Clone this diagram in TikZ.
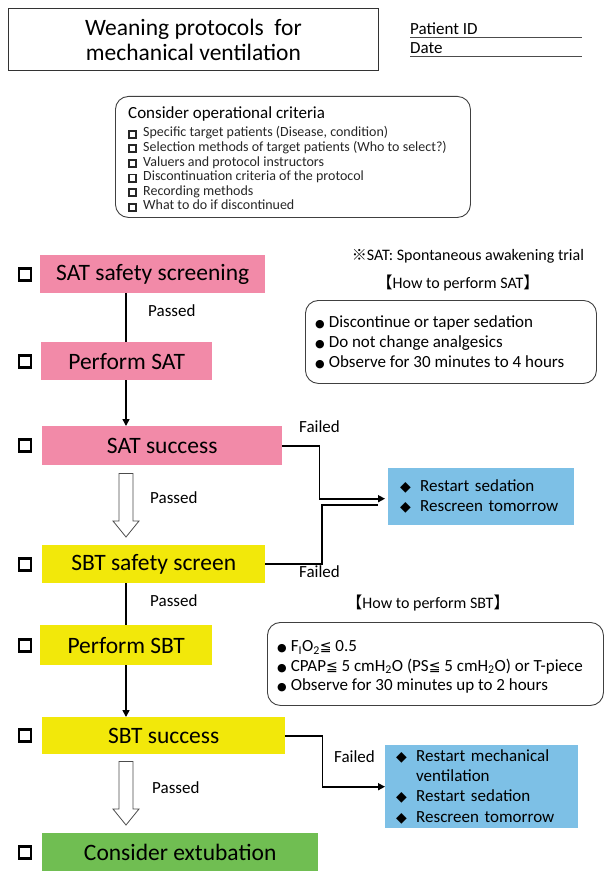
\documentclass[tikz,border=0pt]{standalone}
\usepackage{fontspec}
\setmainfont{Carlito}
\newfontfamily\symf{DejaVu Sans}
\newfontfamily\cjk{Noto Sans CJK JP}
\usetikzlibrary{calc,arrows.meta}
\definecolor{pinkc}{RGB}{242,138,168}
\definecolor{yellowc}{RGB}{242,232,10}
\definecolor{greenc}{RGB}{112,190,82}
\definecolor{bluec}{RGB}{125,192,230}
\newcommand\cbx{\raisebox{0pt}{\setlength{\fboxsep}{0pt}\setlength{\fboxrule}{1.9pt}\fbox{\rule{0pt}{5.2pt}\hspace{5.2pt}}}\hspace{6pt}}
\newcommand\bul{{\symf\fontsize{11}{11}\selectfont ●}\hspace{4pt}}
\newcommand\dia{\makebox[20pt][l]{\symf\fontsize{14}{14}\selectfont ◆}}
\newcommand\leqq{{\symf\fontsize{14}{14}\selectfont ≦}}
\tikzset{
  stepbox/.style={anchor=north west, inner sep=0pt, font=\fontsize{23.5}{26}\selectfont},
  chk/.style={draw, line width=2.6pt, minimum size=12pt, inner sep=0pt},
  conn/.style={line width=1.6pt},
  arr/.style={conn, -{Triangle[length=7pt,width=7pt]}},
  hollow/.style={draw=black!70, line width=0.8pt, fill=white},
  lbl/.style={font=\fontsize{17}{19}\selectfont, inner sep=0pt},
  infobox/.style={draw=black!75, line width=0.9pt, rounded corners=13pt, anchor=north west},
  bluebox/.style={fill=bluec, anchor=north west, inner sep=0pt, align=left, font=\fontsize{17}{20.3}\selectfont},
}
\begin{document}
\begin{tikzpicture}[x=1pt,y=-1pt]
\useasboundingbox (0,0) rectangle (604,872);
% header
\node[draw=black!80, line width=0.9pt, anchor=north west, minimum width=370pt, minimum height=62pt, align=center, font=\fontsize{23.5}{25}\selectfont] (title) at (8,8) {Weaning protocols\ \ for\\mechanical ventilation};
\node[anchor=base west, inner sep=0pt, font=\fontsize{17}{19}\selectfont] (pid) at (410,35) {Patient ID};
\node[anchor=base west, inner sep=0pt, font=\fontsize{17}{19}\selectfont] (date) at (410,54) {Date};
\draw[line width=0.9pt, black!70] ($(pid.base west)+(0,2.5)$) -- ++(172,0);
\draw[line width=0.9pt, black!70] ($(date.base west)+(0,2.5)$) -- ++(172,0);
% criteria
\node[infobox, minimum width=355pt, minimum height=121pt] (crit) at (115,96) {};
\node[anchor=north west, inner sep=0pt, align=left, font=\fontsize{14}{14.6}\selectfont, text=black!85] (crittext) at ($(crit.north west)+(13,10)$) {{\fontsize{17}{18}\selectfont\color{black} Consider operational criteria}\\[4.2pt]
\cbx Specific target patients (Disease, condition)\\
\cbx Selection methods of target patients (Who to select?)\\
\cbx Valuers and protocol instructors\\
\cbx Discontinuation criteria of the protocol\\
\cbx Recording methods\\
\cbx What to do if discontinued};
% SAT info
\node[lbl, font=\fontsize{16}{18}\selectfont] (note) at (468,256) {{\cjk\fontsize{15}{15}\selectfont ※}SAT: Spontaneous awakening trial};
\node[lbl, font=\fontsize{16}{18}\selectfont] (hsat) at (458,283) {{\cjk\fontsize{16}{16}\selectfont 【}How to perform SAT{\cjk\fontsize{16}{16}\selectfont 】}};
\node[infobox, minimum width=291pt, minimum height=83pt] (sathow) at (305,300) {};
\node[anchor=west, inner sep=0pt, align=left, font=\fontsize{17}{20}\selectfont] (sattext) at ($(sathow.west)+(10,0)$) {\bul Discontinue or taper sedation\\\bul Do not change analgesics\\\bul Observe for 30 minutes to 4 hours};
% steps
\node[stepbox, fill=pinkc, minimum width=225pt, minimum height=38pt] (s1) at (40,255) {SAT safety screening};
\node[stepbox, fill=pinkc, minimum width=171pt, minimum height=38pt] (s2) at (41,342) {Perform SAT};
\node[stepbox, fill=pinkc, minimum width=240pt, minimum height=39pt] (s3) at (42,426) {SAT success};
\node[stepbox, fill=yellowc, minimum width=223pt, minimum height=38pt] (s4) at (42,545) {SBT safety screen};
\node[stepbox, fill=yellowc, minimum width=172pt, minimum height=40pt] (s5) at (40,625) {Perform SBT};
\node[stepbox, fill=yellowc, minimum width=243pt, minimum height=37pt] (s6) at (42,717) {SBT success};
\node[stepbox, fill=greenc, minimum width=276pt, minimum height=38pt] (s7) at (42,833) {Consider extubation};
% checkboxes
\foreach \n in {1,...,7} {\node[chk] (c\n) at (25,0 |- s\n.west) {};}
% column
\coordinate (col) at (126,0);
\draw[conn] (col |- s1.south) -- (col |- s2.north);
\draw[arr] (col |- s2.south) -- (col |- s3.north);
\draw[conn] (col |- s4.south) -- (col |- s5.north);
\draw[arr] (col |- s5.south) -- (col |- s6.north);
\node[lbl, anchor=west] (p1) at (148,311) {Passed};
\node[lbl, anchor=west] (p2) at (150,498) {Passed};
\node[lbl, anchor=west] (p3) at (150,601) {Passed};
\node[lbl, anchor=west] (p4) at (152,788) {Passed};
% hollow arrows
\coordinate (h1t) at ($(col |- s3.south)+(0,8)$);
\coordinate (h1b) at ($(col |- s4.north)+(0,-8)$);
\draw[hollow] let \p1=(h1t), \p2=(h1b) in (\x1-7pt,\y1) -- (\x1+7pt,\y1) -- (\x1+7pt,\y2+16pt) -- (\x1+13pt,\y2+16pt) -- (\x1,\y2) -- (\x1-13pt,\y2+16pt) -- (\x1-7pt,\y2+16pt) -- cycle;
\coordinate (h2t) at ($(col |- s6.south)+(0,7)$);
\coordinate (h2b) at ($(col |- s7.north)+(0,-8)$);
\draw[hollow] let \p1=(h2t), \p2=(h2b) in (\x1-7pt,\y1) -- (\x1+7pt,\y1) -- (\x1+7pt,\y2+16pt) -- (\x1+13pt,\y2+16pt) -- (\x1,\y2) -- (\x1-13pt,\y2+16pt) -- (\x1-7pt,\y2+16pt) -- cycle;
% SAT/SBT failure target
\node[bluebox, minimum width=186pt, minimum height=57pt, text width=162pt, inner xsep=12pt] (b1) at (388,468) {\dia Restart sedation\\\dia Rescreen tomorrow};
\coordinate (j1) at (322,505);
\coordinate (j2) at (378,505);
\draw[conn] (s4.east) -| (j1) -- (j2);
\draw[arr] (s3.east) -- ++(37,0) |- ($(b1.west)+(-3,2)$);
\node[lbl, anchor=west] (f1) at (299,427) {Failed};
\node[lbl, anchor=west] (f2) at (299,572) {Failed};
% SBT info
\node[lbl, font=\fontsize{16}{18}\selectfont] (hsbt) at (428,603) {{\cjk\fontsize{16}{16}\selectfont 【}How to perform SBT{\cjk\fontsize{16}{16}\selectfont 】}};
\node[infobox, minimum width=336pt, minimum height=83pt] (sbthow) at (267,622) {};
\node[anchor=west, inner sep=0pt, align=left, font=\fontsize{17}{19.5}\selectfont] (sbttext) at ($(sbthow.west)+(10,3)$) {\bul F\textsubscript{I}O\textsubscript{2}\leqq\ 0.5\\\bul CPAP\leqq\ 5 cmH\textsubscript{2}O (PS\leqq\ 5 cmH\textsubscript{2}O) or T-piece\\\bul Observe for 30 minutes up to 2 hours};
% SBT failure target
\node[bluebox, minimum width=193pt, minimum height=83pt, text width=171pt, inner xsep=11pt] (b2) at (385,745) {\dia Restart mechanical\\\makebox[20pt]{}ventilation\\\dia Restart sedation\\\dia Rescreen tomorrow};
\draw[arr] (s6.east) -- ++(37,0) |- (b2.west);
\node[lbl, anchor=west] (f3) at (334,757) {Failed};
\end{tikzpicture}
\end{document}
